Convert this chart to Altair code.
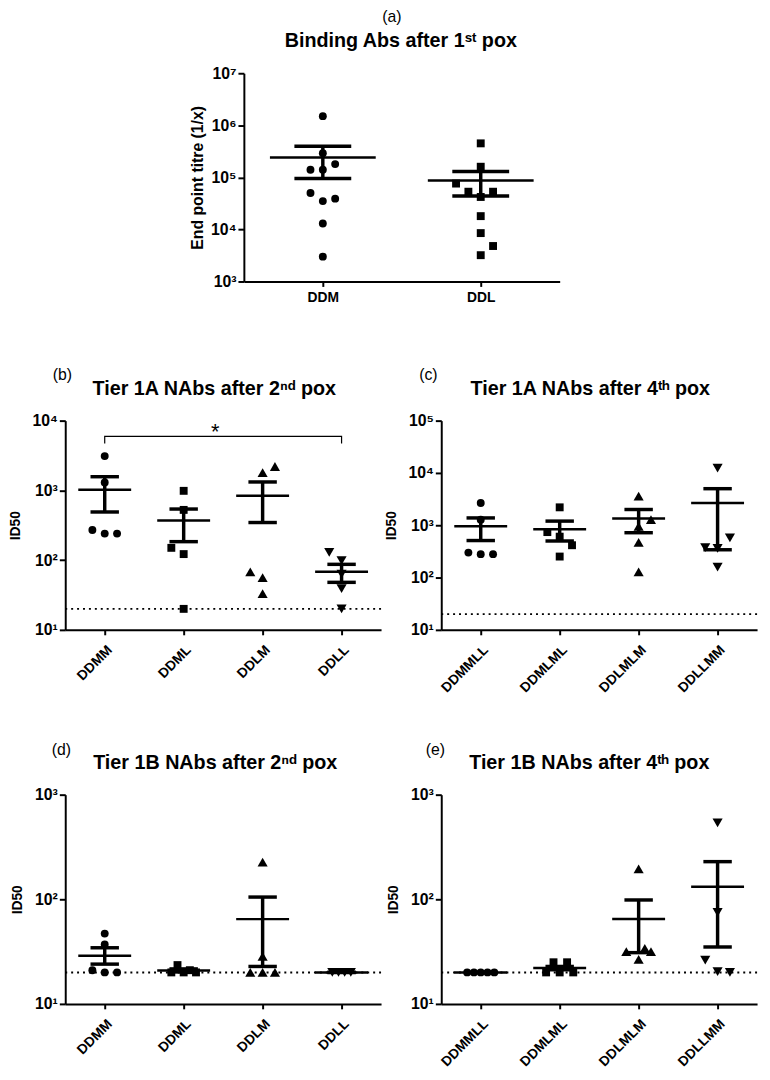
import json
import altair as alt
import pandas as pd

FONT = "Liberation Sans"
SUP = ["⁰", "¹", "²", "³", "⁴", "⁵", "⁶", "⁷"]

# ---------------- (a) Binding Abs after 1st pox ----------------
A_GROUPS = ["DDM", "DDL"]
A_VALUES = [
    [1.5e6, 2.9e5, 1.8e5, 1.4e5, 1.4e5, 5.0e4, 3.9e4, 3.5e4, 1.3e4, 3.0e3],
    [4.5e5, 1.6e5, 7.6e4, 5.3e4, 5.3e4, 4.2e4, 1.8e4, 8.5e3, 4.8e3, 3.2e3],
]
A_SPREAD = [
    [0, 0, 1, -1, 0, -1, 1, 0, 0, 0],
    [0, 0, -2, -1, 1, 0, 0, 0, 1, 0],
]
A_MEAN = [2.4e5, 8.7e4]
A_UPPER = [3.95e5, 1.3e5]
A_LOWER = [9.5e4, 4.4e4]

# ---------------- (b) Tier 1A NAbs after 2nd pox ----------------
B_GROUPS = ["DDMM", "DDML", "DDLM", "DDLL"]
B_VALUES = [
    [3100, 1300, 270, 240, 240],
    [985, 525, 150, 122, 20],
    [2200, 1800, 68, 56, 33],
    [129, 98, 63, 39, 20],
]
B_SPREAD = [
    [0, 0, -1, 0, 1],
    [0, 0, -1, 0, 0],
    [1, 0, -1, 0, 0],
    [-1, 0, 0, 0, 0],
]
B_MEAN = [1020, 369, 835, 68]
B_UPPER = [1570, 540, 1320, 87]
B_LOWER = [490, 184, 346, 48]
B_BRACKET_X = [0, 0, 3, 3]
B_BRACKET_Y = [4720, 5930, 5930, 4720]
B_STAR_X = [1.4]
B_STAR_Y = [5400]

# ---------------- (c) Tier 1A NAbs after 4th pox ----------------
C_GROUPS = ["DDMMLL", "DDMLML", "DDLMLM", "DDLLMM"]
C_VALUES = [
    [2660, 1280, 300, 280, 280],
    [2200, 740, 605, 415, 252],
    [3600, 1280, 955, 470, 129],
    [12400, 575, 375, 360, 158],
]
C_SPREAD = [
    [0, 0, -1, 0, 1],
    [0, -1, 0, 1, 0],
    [0, 1, 0, 0, 0],
    [0, 1, -1, 0, 0],
]
C_MEAN = [955, 835, 1350, 2660]
C_UPPER = [1380, 1200, 2000, 5000]
C_LOWER = [510, 500, 720, 340]

# ---------------- (d) Tier 1B NAbs after 2nd pox ----------------
D_GROUPS = ["DDMM", "DDML", "DDLM", "DDLL"]
D_VALUES = [
    [47, 37, 21, 20, 20],
    [23.5, 21, 20, 20, 20],
    [226, 28.5, 20, 20, 20],
    [20, 20, 20, 20],
]
D_SPREAD = [
    [0, 0, -1, 0, 1],
    [-0.5, 0.5, -1, 0, 1],
    [0, 0, -1, 0, 1],
    [-0.75, -0.25, 0.25, 0.75],
]
D_MEAN = [28.9, 20.9, 64.6, 20]
D_UPPER = [34.4, 21.6, 105, 20]
D_LOWER = [24, 20.2, 22.8, 20]

# ---------------- (e) Tier 1B NAbs after 4th pox ----------------
E_GROUPS = ["DDMMLL", "DDMLML", "DDLMLM", "DDLLMM"]
E_VALUES = [
    [20, 20, 20, 20, 20],
    [25, 25, 20, 20, 20],
    [195, 34, 31.6, 31.6, 26.6],
    [537, 75, 26.2, 20.4, 20],
]
E_SPREAD = [
    [-1.1, -0.55, 0, 0.55, 1.1],
    [-0.5, 0.6, -1.1, 0, 1.1],
    [0, 0.5, -1, 1, 0],
    [0, 0, -1, 0, 1],
]
E_MEAN = [20, 22, 64.9, 132]
E_UPPER = [20, 22.8, 98.5, 229]
E_LOWER = [20, 21.2, 30.9, 35]

LOD = [20]

SHAPES = ["circle", "square", "triangle-up", "triangle-down"]
SHAPE_SIZES = [64, 64, 105, 105]
SLOT_PX = 12.5
MEAN_HALF = 0.335
CAP_HALF = 0.18


def make_panel(groups, values, spread, means, uppers, lowers, ydom, heading, head_pos,
               tag, tag_pos, ytitle, ytitle_size, ytitle_pad, width, height,
               label_angle, lod=True, bracket=None):
    n = len(groups)
    band = width / n
    step = SLOT_PX / band
    rows = []
    for i, g in enumerate(groups):
        for v, s in zip(values[i], spread[i]):
            rows.append({"group": g, "idx": i, "value": v, "slot": s,
                         "shp": SHAPES[i], "sz": SHAPE_SIZES[i]})
    pts = pd.DataFrame(rows)
    summ = pd.DataFrame({"group": groups, "idx": list(range(n)),
                         "mean": means, "upper": uppers, "lower": lowers})

    xscale = alt.Scale(domain=[-0.5, n - 0.5], nice=False, zero=False)
    xaxis = alt.Axis(values=list(range(n)),
                     labelExpr=json.dumps(groups) + "[round(datum.value)]",
                     labelAngle=label_angle, labelFontSize=14,
                     labelPadding=4 if label_angle == 0 else 8,
                     title=None, labelFlush=False, labelOverlap=False,
                     tickSize=5)
    lo, hi = ydom
    decades = []
    v = lo
    while v <= hi * 1.0001:
        decades.append(v)
        v *= 10
    yscale = alt.Scale(type="log", domain=ydom, nice=False)
    yaxis = alt.Axis(values=decades,
                     labelExpr="'10' + " + json.dumps(SUP, ensure_ascii=False)
                     + "[round(log(datum.value)/LN10)]",
                     labelFontSize=16, labelPadding=2, tickSize=6,
                     title=ytitle, titleFontSize=ytitle_size,
                     titlePadding=ytitle_pad, labelFlush=False,
                     labelOverlap=False)

    def X(field):
        return alt.X(field, scale=xscale, axis=xaxis)

    def Y(field):
        return alt.Y(field, scale=yscale, axis=yaxis)

    layers = []
    if lod:
        layers.append(
            alt.Chart(pd.DataFrame({"lod": LOD}))
            .mark_rule(strokeDash=[2, 4], strokeWidth=2, color="black")
            .encode(y=Y("lod:Q"))
        )
    layers.append(
        alt.Chart(pts)
        .transform_calculate(pos="datum.idx + datum.slot * %f" % step)
        .mark_point(filled=True, opacity=1, color="black")
        .encode(x=X("pos:Q"), y=Y("value:Q"),
                shape=alt.Shape("shp:N", scale=None, legend=None),
                size=alt.Size("sz:Q", scale=None, legend=None))
    )
    sb = alt.Chart(summ).transform_calculate(
        m1="datum.idx - %f" % MEAN_HALF, m2="datum.idx + %f" % MEAN_HALF,
        c1="datum.idx - %f" % CAP_HALF, c2="datum.idx + %f" % CAP_HALF)
    layers.append(sb.mark_rule(strokeWidth=3.5, color="black")
                  .encode(x=X("idx:Q"), y=Y("lower:Q"), y2="upper:Q"))
    layers.append(sb.mark_rule(strokeWidth=3.5, color="black")
                  .encode(x=X("c1:Q"), x2="c2:Q", y=Y("upper:Q")))
    layers.append(sb.mark_rule(strokeWidth=3.5, color="black")
                  .encode(x=X("c1:Q"), x2="c2:Q", y=Y("lower:Q")))
    layers.append(sb.mark_rule(strokeWidth=2.5, color="black")
                  .encode(x=X("m1:Q"), x2="m2:Q", y=Y("mean:Q")))
    if bracket is not None:
        bx, by, sx, sy = bracket
        layers.append(
            alt.Chart(pd.DataFrame({"bx": bx, "by": by, "o": list(range(len(bx)))}))
            .mark_line(strokeWidth=1.2, color="black")
            .encode(x=X("bx:Q"), y=Y("by:Q"), order="o:Q")
        )
        layers.append(
            alt.Chart(pd.DataFrame({"sx": sx, "sy": sy, "t": ["*"]}))
            .mark_text(fontSize=22, font=FONT, baseline="alphabetic", color="black")
            .encode(x=X("sx:Q"), y=Y("sy:Q"), text="t:N")
        )
    layers.append(
        alt.Chart(pd.DataFrame({"t": [tag]}))
        .mark_text(fontSize=16, font=FONT, align="center", baseline="middle", color="black")
        .encode(text="t:N", x=alt.value(tag_pos[0]), y=alt.value(tag_pos[1]))
    )
    layers.append(
        alt.Chart(pd.DataFrame({"t": [heading]}))
        .mark_text(fontSize=20, font=FONT, fontWeight="bold", align="center",
                   baseline="alphabetic", color="black")
        .encode(text="t:N", x=alt.value(head_pos[0]), y=alt.value(head_pos[1]))
    )
    return alt.layer(*layers).properties(width=width, height=height)


pa = make_panel(A_GROUPS, A_VALUES, A_SPREAD, A_MEAN, A_UPPER, A_LOWER, [1e3, 1e7],
                "Binding Abs after 1ˢᵗ pox", (159, -27), "(a)", (150, -57),
                "End point titre (1/x)", 16, 5, 320, 211, 0, lod=False)
pb = make_panel(B_GROUPS, B_VALUES, B_SPREAD, B_MEAN, B_UPPER, B_LOWER, [10, 1e4],
                "Tier 1A NAbs after 2ⁿᵈ pox", (151, -26), "(b)", (-3, -46), "ID50", 14, 10,
                320, 212, -45,
                bracket=(B_BRACKET_X, B_BRACKET_Y, B_STAR_X, B_STAR_Y))
pc = make_panel(C_GROUPS, C_VALUES, C_SPREAD, C_MEAN, C_UPPER, C_LOWER, [10, 1e5],
                "Tier 1A NAbs after 4ᵗʰ pox", (151, -26), "(c)", (-13, -46), "ID50", 14, 10,
                320, 212, -45)
pd_ = make_panel(D_GROUPS, D_VALUES, D_SPREAD, D_MEAN, D_UPPER, D_LOWER, [10, 1e3],
                 "Tier 1B NAbs after 2ⁿᵈ pox", (152, -26), "(d)", (-4, -45), "ID50", 14, 10,
                 320, 212, -45)
pe = make_panel(E_GROUPS, E_VALUES, E_SPREAD, E_MEAN, E_UPPER, E_LOWER, [10, 1e3],
                "Tier 1B NAbs after 4ᵗʰ pox", (150, -26), "(e)", (-6, -45), "ID50", 14, 10,
                320, 212, -45)

spacer = (alt.Chart(pd.DataFrame({"z": [0]}))
          .mark_point(opacity=0)
          .encode(x=alt.value(0), y=alt.value(0))
          .properties(width=181, height=211))

row1 = alt.hconcat(spacer, pa, spacing=0, bounds="flush")
row2 = alt.hconcat(pb, pc, spacing=61, bounds="flush")
row3 = alt.hconcat(pd_, pe, spacing=61, bounds="flush")
lower = alt.vconcat(row2, row3, spacing=48)
chart = (alt.vconcat(row1, lower, spacing=64)
         .properties(padding={"left": 0, "top": -6, "right": 4, "bottom": 4})
         .configure(font=FONT)
         .configure_view(strokeWidth=0)
         .configure_axis(domainColor="black", domainWidth=2, tickColor="black",
                         tickWidth=2, labelColor="black", labelFont=FONT,
                         labelFontWeight="bold", titleColor="black", titleFont=FONT,
                         titleFontWeight="bold", grid=False))

chart.save("out.html", embed_options={"renderer": "svg", "actions": False})
